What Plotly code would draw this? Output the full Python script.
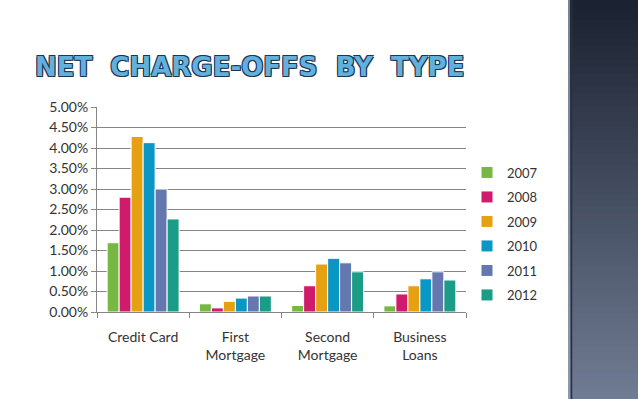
import plotly.graph_objects as go

categories = ["Credit Card", "First<br>Mortgage", "Second<br>Mortgage", "Business<br>Loans"]
years = ["2007", "2008", "2009", "2010", "2011", "2012"]
v2007 = [1.69, 0.20, 0.16, 0.15]
v2008 = [2.80, 0.10, 0.64, 0.44]
v2009 = [4.28, 0.26, 1.17, 0.64]
v2010 = [4.13, 0.34, 1.31, 0.81]
v2011 = [3.00, 0.39, 1.20, 0.98]
v2012 = [2.27, 0.39, 0.98, 0.78]
series = [v2007, v2008, v2009, v2010, v2011, v2012]
y_ticks = [0, 0.5, 1.0, 1.5, 2.0, 2.5, 3.0, 3.5, 4.0, 4.5, 5.0]
y_tick_labels = ["0.00%", "0.50%", "1.00%", "1.50%", "2.00%", "2.50%", "3.00%", "3.50%", "4.00%", "4.50%", "5.00%"]
colors = ["#77B843", "#D01A6B", "#E5A111", "#0A97C6", "#6577AF", "#1B9C87"]

W, H = 638, 399
L, R, T, B = 97, 172, 107, 87
pw, ph = W - L - R, H - T - B

def px_x(p):
    return (p - L) / pw

def px_y(p):
    return (H - B - p) / ph

fig = go.Figure()
for yr, vals, c in zip(years, series, colors):
    fig.add_trace(go.Bar(
        x=categories, y=vals, name=yr, legendgroup=yr,
        marker=dict(color=c, line=dict(color="white", width=1)),
    ))

shapes = []
# decorative gradient bar on the right
n = 60
top = (0x1B, 0x22, 0x31)
bot = (0x70, 0x7C, 0x93)
x0, x1 = 568, 638
for i in range(n):
    t = i / (n - 1)
    col = "rgb(%d,%d,%d)" % tuple(int(a + (b - a) * t) for a, b in zip(top, bot))
    ya = i * H / n
    yb = (i + 1) * H / n + 2
    shapes.append(dict(type="rect", xref="paper", yref="paper",
                       x0=px_x(x0), x1=px_x(x1), y0=px_y(yb), y1=px_y(ya),
                       fillcolor=col, line=dict(width=0), layer="above"))
shapes.append(dict(type="line", xref="paper", yref="paper",
                   x0=px_x(569), x1=px_x(569), y0=px_y(0), y1=px_y(H),
                   line=dict(color="#9AA3B2", width=1.5)))
shapes.append(dict(type="line", xref="paper", yref="paper",
                   x0=px_x(571.5), x1=px_x(571.5), y0=px_y(0), y1=px_y(H),
                   line=dict(color="#2A3040", width=1.5)))

fig.update_layout(
    width=W, height=H,
    margin=dict(l=L, r=R, t=T, b=B),
    paper_bgcolor="white", plot_bgcolor="white",
    font=dict(family="Lato, sans-serif", size=13, color="#333333"),
    barmode="group", bargap=0.22, bargroupgap=0,
    showlegend=True,
    legend=dict(x=px_x(467), xanchor="left", y=px_y(234), yanchor="middle",
                font=dict(size=13, color="#333333"), tracegroupgap=4.6,
                itemwidth=30, bgcolor="rgba(0,0,0,0)"),
    shapes=shapes,
    annotations=[dict(
        text="NET  CHARGE-OFFS  BY  TYPE", xref="paper", yref="paper",
        x=px_x(249), y=px_y(67), xanchor="center", yanchor="middle",
        showarrow=False,
        font=dict(family="DejaVu Sans", size=26, color="#62B0DE", weight="bold",
                  shadow="1px 1px 0 #1E3550, -1px -1px 0 #1E3550, 1px -1px 0 #1E3550, -1px 1px 0 #1E3550"),
    )],
)
fig.update_xaxes(
    showgrid=False, showline=True, linecolor="#868686", linewidth=1,
    ticks="outside", tickson="boundaries", ticklen=5, tickcolor="#868686",
    ticklabelstandoff=12, tickfont=dict(size=14, color="#333333"),
)
fig.update_yaxes(
    range=[0, 5.0], tickvals=y_ticks, ticktext=y_tick_labels,
    showgrid=True, gridcolor="#868686", gridwidth=1,
    showline=True, linecolor="#868686", linewidth=1,
    ticks="outside", ticklen=5, tickcolor="#868686",
    zeroline=False, tickfont=dict(size=14, color="#333333"),
)

fig.write_html("out.html", config={"displayModeBar": False},
               post_script="document.body.style.margin='0';")
